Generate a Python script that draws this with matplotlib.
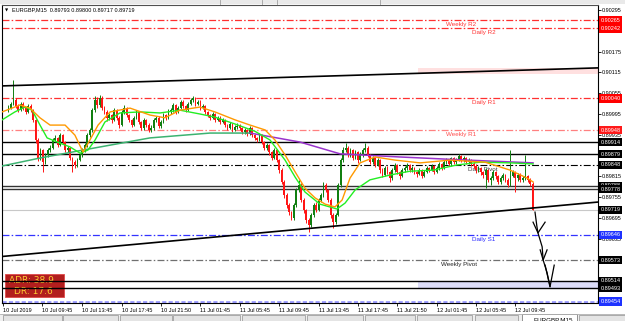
import numpy as np
import matplotlib
matplotlib.use('Agg')
import matplotlib.pyplot as plt
from matplotlib.patches import Rectangle

plt.rcParams['font.family'] = ['Liberation Sans', 'DejaVu Sans']
plt.rcParams['lines.scale_dashes'] = False

W, H = 625, 321
PT = 1e-5      # one point
BASE = 0.89    # candle / MA values below are points above this

# EURGBP M15 candles, one per bar (bar 0 = 10 Jul 06:15)
closes_pt = [1012, 1024, 1035, 1018, 1006, 1024, 1012, 1001, 1018, 1006,
             978, 920, 868, 891, 856,
             877, 891, 897, 920,
             926, 905, 934, 914, 891, 897,
             868, 856, 848, 862, 877, 891,
             905, 934, 949, 1006, 1035,
             1021, 1041, 1012, 1001, 984,
             992, 978, 1006, 984, 963, 1001, 1012, 992, 978, 963, 984, 1001, 972, 955, 978,
             963, 949, 955, 978, 984, 960, 972, 992, 984, 1001,
             1006, 1021, 1001, 1012, 1030, 1018, 1006, 1024, 1035, 1041, 1024, 1030, 1012,
             1018, 1001, 992, 984, 995, 978,
             984, 972, 978, 963, 955, 966, 949, 958, 960, 955, 943, 949, 937, 955, 934, 926,
             920, 934, 914, 897, 905, 885, 868, 891,
             862, 833, 799, 761, 732,
             712, 695, 732, 776, 790, 747, 718,
             689, 675, 703, 732, 718,
             747, 761, 790, 776, 747, 703,
             683, 703,
             790, 862, 891, 897,
             877, 891, 868, 885, 862, 877, 891, 897, 877, 856, 868,
             848, 862, 833, 819, 839, 828, 810, 833, 848, 828, 816, 833, 839, 848, 833,
             839, 828, 822, 833, 816, 828, 839, 833, 845, 828, 839, 851, 839,
             856, 862, 851, 868, 856, 862, 874, 862, 868, 856, 862, 851,
             845, 833, 839, 828, 819, 833, 805, 810, 828,
             816, 799, 810, 819, 805, 790, 816, 828, 810,
             819, 805, 810, 816, 805, 793,
             719]
highs_pt = [1020, 1030, 1093, 1040, 1024, 1029, 1030, 1016, 1024, 1023,
            1010, 982, 925, 898, 895,
            882, 897, 905, 926,
            935, 930, 940, 938, 918, 903,
            900, 872, 862, 868, 882, 896,
            912, 940, 955, 1012, 1048,
            1044, 1050, 1046, 1018, 1006,
            998, 996, 1012, 1010, 988, 1006, 1020, 1016, 995, 982, 990, 1006, 1004, 976, 983,
            982, 968, 962, 984, 990, 988, 978, 998, 996, 1008,
            1012, 1027, 1024, 1018, 1036, 1034, 1022, 1030, 1040, 1048, 1045, 1036, 1034,
            1024, 1022, 1005, 996, 1000, 998,
            990, 988, 984, 981, 966, 972, 970, 964, 968, 965, 958, 955, 952, 960, 958, 938,
            930, 940, 938, 918, 910, 908, 888, 896,
            894, 866, 838, 804, 768,
            738, 716, 738, 782, 805, 795, 752,
            722, 694, 708, 738, 740,
            752, 768, 799, 796, 780, 752,
            708, 710,
            796, 868, 899, 911,
            902, 898, 895, 892, 888, 884, 898, 911, 902, 880, 874,
            872, 868, 866, 838, 844, 846, 832, 838, 854, 852, 832, 838, 845, 855, 852,
            845, 842, 832, 838, 836, 833, 844, 842, 850, 848, 844, 856, 854,
            862, 868, 866, 872, 871, 868, 880, 878, 873, 872, 867, 866,
            856, 850, 845, 842, 832, 838, 836, 816, 834,
            832, 820, 815, 824, 822, 810, 891, 834, 832,
            825, 824, 816, 877, 820, 810,
            800]
lows_pt = [1000, 1008, 1020, 1012, 1000, 1003, 1006, 995, 998, 1001,
           972, 912, 860, 862, 828,
           850, 871, 885, 893,
           914, 900, 902, 908, 885, 884,
           862, 828, 840, 842, 858, 872,
           886, 900, 928, 944, 1000,
           1012, 1016, 1006, 995, 975,
           978, 970, 974, 978, 955, 960, 996, 986, 972, 958, 960, 980, 966, 948, 950,
           958, 943, 944, 950, 972, 955, 956, 968, 978, 980,
           995, 1002, 996, 998, 1008, 1012, 1000, 1003, 1020, 1030, 1018, 1020, 1006,
           1008, 996, 986, 978, 980, 972,
           974, 966, 968, 958, 950, 952, 944, 945, 952, 950, 938, 938, 932, 934, 928, 920,
           914, 916, 908, 890, 892, 878, 862, 864,
           856, 826, 792, 752, 724,
           704, 688, 690, 728, 770, 740, 710,
           680, 655, 670, 698, 712,
           714, 742, 756, 770, 740, 696,
           666, 678,
           700, 785, 856, 885,
           870, 872, 862, 864, 855, 858, 872, 886, 870, 850, 850,
           842, 844, 826, 812, 815, 822, 800, 806, 828, 822, 808, 812, 828, 834, 828,
           828, 822, 814, 818, 810, 812, 824, 828, 830, 822, 824, 834, 833,
           835, 850, 846, 846, 850, 852, 858, 856, 857, 850, 850, 845,
           838, 826, 828, 820, 810, 781, 798, 790, 806,
           808, 792, 794, 804, 798, 784, 786, 812, 770,
           803, 798, 799, 805, 798, 788,
           717]
first_open_pt = 1006

# moving averages (bar, points)
fast_bars = [-2.6, 4.7, 8.7, 12.8, 16.9, 23.0, 27.0, 30.3, 33.1, 36.4, 41.3, 49.4, 57.5,
             63.6, 69.7, 77.8, 83.9, 92.1, 98.2, 104.3, 108.3, 112.4, 116.5, 120.5, 124.6,
             128.7, 132.7, 135.6, 138.8, 142.9, 149.0, 157.1, 167.3, 179.5, 193.7, 203.9,
             210.8, 213.2]
fast_pts = [1001, 1021, 1012, 984, 963, 963, 934, 885, 920, 963, 1001, 1012, 992,
            984, 1006, 1015, 1001, 978, 963, 949, 920, 877, 828, 781, 753,
            735, 727, 747, 810, 854, 871, 862, 854, 862, 856, 833,
            810, 799]
mid_bars = [-2.6, 2.6, 6.7, 9.6, 12.8, 15.7, 20.9, 25.0, 29.1, 32.3, 35.2, 39.2, 45.3,
            53.5, 61.6, 69.7, 77.8, 83.9, 92.1, 100.2, 106.3, 112.4, 116.5, 120.5, 126.6,
            133.5, 136.8, 140.9, 146.9, 155.1, 163.2, 172.6, 182.3, 191.7, 203.9, 213.2]
mid_pts = [978, 1001, 1015, 1006, 963, 926, 911, 900, 882, 891, 920, 972, 998,
           1001, 998, 1006, 995, 986, 966, 945, 920, 862, 813, 770, 735,
           721, 738, 776, 805, 819, 830, 833, 848, 856, 854, 851]
slow_up_bars = [-2.6, 12.8, 30.3, 57.5, 81.9, 98.2]
slow_up_pts = [845, 868, 891, 926, 940, 940]
slow_dn_bars = [98.2, 118.5, 134.8, 159.1, 186.4, 213.2]
slow_dn_pts = [940, 914, 880, 871, 862, 854]

# trend lines (bar, price)
trend_upper = [(-2.6, 0.90076), (239.6, 0.90128)]
trend_lower = [(-2.6, 0.89584), (239.6, 0.89741)]

# horizontal objects with their price boxes
levels = [0.90265, 0.90242, 0.90040, 0.89948, 0.89914, 0.89879, 0.89848,
          0.89788, 0.89778, 0.89719, 0.89646, 0.89573, 0.89514, 0.89493, 0.89454]
pivot_names = ['Weekly R2', 'Daily R2', 'Daily R1', 'Weekly R1',
               'Daily Pivot', 'Daily S1', 'Weekly Pivot']
pivot_prices = [0.90265, 0.90242, 0.90040, 0.89948, 0.89848, 0.89646, 0.89573]
zone_top = (0.90110, 0.90128)
zone_bottom = (0.89493, 0.89514)

yticks = [0.90295, 0.90235, 0.90175, 0.90115, 0.90055, 0.89995, 0.89935, 0.89875,
          0.89815, 0.89755, 0.89695, 0.89635, 0.89575, 0.89515, 0.89455]
# tick values fully covered by a price box in the terminal
hidden_ticks = [0.89875, 0.89575, 0.89515, 0.89455]
tick_bars = [-2.3, 13.6, 30, 46, 62, 78, 94, 110, 126, 142, 158, 174, 190, 206]
tick_labels = ['10 Jul 2019', '10 Jul 09:45', '10 Jul 13:45', '10 Jul 17:45',
               '10 Jul 21:50', '11 Jul 01:45', '11 Jul 05:45', '11 Jul 09:45',
               '11 Jul 13:45', '11 Jul 17:45', '11 Jul 21:50', '12 Jul 01:45',
               '12 Jul 05:45', '12 Jul 09:45']

# hand drawn arrow (bar, points)
arrow_bars = [214.0, 214.8, 215.2, 216.9, 217.3, 218.9, 220.1]
arrow_pts = [712, 669, 652, 612, 574, 537, 497]
heads = [([213.2, 215.2, 218.1], [683, 652, 683]),
         ([216.1, 217.3, 218.9], [603, 574, 603]),
         ([218.1, 220.1, 221.8], [559, 497, 559])]


def to_price(v):
    return BASE + np.asarray(v, dtype=float) * PT


closes = to_price(closes_pt)
highs = to_price(highs_pt)
lows = to_price(lows_pt)
opens = np.r_[to_price(first_open_pt), closes[:-1]]   # gapless M15 bars
x = np.arange(len(closes))

fig = plt.figure(figsize=(W / 100, H / 100), dpi=100, facecolor='white')

# window chrome (toolbar strip on top, symbol tabs at the bottom)
bg = fig.add_axes([0, 0, 1, 1], zorder=-1)
bg.set_xlim(0, W)
bg.set_ylim(H, 0)
bg.axis('off')
bg.add_patch(Rectangle((0, 0), W, 3.5, fc='#e9e9e9', ec='none'))
for sx in [220, 262, 277, 380]:
    bg.plot([sx, sx], [0, 3.5], color='#a0a0a0', lw=0.6)
bg.add_patch(Rectangle((0, 313.5), W, 8, fc='#efefef', ec='none'))
bg.plot([0, W], [313.5, 313.5], color='#b0b0b0', lw=0.6)
for a, b in [(3, 62), (63, 118), (120, 172), (173, 240), (242, 305), (307, 363),
             (365, 415), (417, 472), (475, 518), (579, 625)]:
    bg.add_patch(Rectangle((a, 315), b - a, 8, fc='#e4e4e4', ec='#a0a0a0', lw=0.6))
bg.add_patch(Rectangle((522, 314), 55, 9, fc='white', ec='#808080', lw=0.6))
bg.text(533, 319.5, 'EURGBP,M15', fontsize=4.5, va='center', ha='left')

ax = fig.add_axes([2 / W, (H - 303) / H, 596 / W, 298 / H])
ax.set_xlim(-2.64, 239.6)
ax.set_ylim(0.894498, 0.903094)

# zones
ax.fill_between([166.5, 239.6], *zone_top, color='#ffe0e0', lw=0, zorder=0.5)
ax.fill_between([166.5, 239.6], *zone_bottom, color='#dcdcf8', lw=0, zorder=0.5)

# horizontal lines
dd = (0, (5, 1.6, 1.1, 1.6))
line_styles = [('#ff3030', dd, 0.9), ('#ff3030', dd, 0.9), ('#ff3030', dd, 0.9),
               ('#ff8080', dd, 0.9), ('black', '-', 1.0), ('black', '-', 1.0),
               ('black', dd, 0.8), ('#333333', '-', 1.0), ('#333333', '-', 1.0),
               ('#c8c8c8', '-', 0.8), ('#3333ff', dd, 0.9), ('#707070', dd, 0.9),
               ('black', '-', 1.0), ('black', '-', 1.0), ('#9a9aff', (0, (3, 1.6)), 2.0)]
box_colors = ['#ff0000', '#ff0000', '#ff0000', '#ff1a1a', 'black', 'black', 'black',
              'black', 'black', 'black', '#1e32ff', 'black', 'black', 'black', '#1e32ff']
for lv, (c, ls, lw) in zip(levels, line_styles):
    ax.axhline(lv, color=c, ls=ls, lw=lw, zorder=2)

ytr = ax.get_yaxis_transform()
for lv, c in zip(levels, box_colors):
    ax.text(1.004, lv, f'{lv:.5f}', transform=ytr, ha='left', va='center', fontsize=4,
            color='white', clip_on=False, zorder=8,
            bbox=dict(boxstyle='square,pad=0.3', fc=c, ec='none'))

# pivot captions
pivot_x = [177.8, 188.4, 188.4, 177.8, 186.8, 188.4, 175.8]
pivot_colors = ['#ff3333', '#ff3333', '#ff3333', '#ff4d4d', '#404040', '#2a2aff', '#222222']
for name, pr, px, pc in zip(pivot_names, pivot_prices, pivot_x, pivot_colors):
    ax.annotate(name, (px, pr), xytext=(0, -1.2), textcoords='offset points',
                ha='left', va='top', fontsize=4.5, color=pc, zorder=1)

# trend lines
for tl in (trend_upper, trend_lower):
    ax.plot([p[0] for p in tl], [p[1] for p in tl], color='black', lw=1.2, zorder=4)

# candles
up = closes >= opens
col = np.where(up, '#117f11', '#ff1414')
ax.vlines(x, lows, highs, colors=col, lw=0.7, zorder=3)
ax.bar(x, np.maximum(np.abs(closes - opens), 0.6 * PT), bottom=np.minimum(opens, closes),
       width=0.72, color=col, lw=0, zorder=3)

# moving averages
ax.plot(slow_up_bars, to_price(slow_up_pts), color='#3cb371', lw=1.1, zorder=3.5)
ax.plot(slow_dn_bars, to_price(slow_dn_pts), color='#9933cc', lw=1.1, zorder=3.5)
ax.plot(mid_bars, to_price(mid_pts), color='#22ee22', lw=1.0, zorder=3.6)
ax.plot(fast_bars, to_price(fast_pts), color='#ff9900', lw=1.0, zorder=3.7)

# arrow sketch
ax.plot(arrow_bars, to_price(arrow_pts), color='black', lw=0.9, zorder=5, clip_on=False)
for hb, hp in heads:
    ax.plot(hb, to_price(hp), color='black', lw=0.9, zorder=5, clip_on=False)

# ADR panel
ax.add_patch(Rectangle((0.005, 0.020), 0.099, 0.077, transform=ax.transAxes,
                       fc='#b21e1e', ec='#e04848', lw=0.6, zorder=1.5))
ax.text(0.049, 0.077, 'ADR: 38.9', transform=ax.transAxes, ha='center', va='center',
        fontsize=6.5, color='#ffcc33', family='DejaVu Sans', zorder=1.6)
ax.text(0.053, 0.040, 'DR: 17.6', transform=ax.transAxes, ha='center', va='center',
        fontsize=6.5, color='#ffcc33', family='DejaVu Sans', zorder=1.6)

# axes
ax.yaxis.tick_right()
ax.set_yticks(yticks)
ax.set_yticklabels(['' if t in hidden_ticks else f'{t:.5f}' for t in yticks])
ax.tick_params(axis='y', length=2, width=0.6, pad=1, labelsize=4)
ax.set_xticks(tick_bars)
ax.set_xticklabels(tick_labels)
for lab in ax.get_xticklabels():
    lab.set_ha('left')
ax.tick_params(axis='x', length=2, width=0.6, pad=1.5, labelsize=4)
for s in ax.spines.values():
    s.set_linewidth(0.8)
    s.set_color('black')
ax.spines['top'].set_color('#505050')

fig.text(5 / W, 1 - 10 / H, '\u25bc', fontsize=3, va='center', family='DejaVu Sans')
fig.text(12 / W, 1 - 10 / H, 'EURGBP,M15  0.89793 0.89800 0.89717 0.89719',
         fontsize=4, va='center')

fig.savefig('out.png', dpi=100)
